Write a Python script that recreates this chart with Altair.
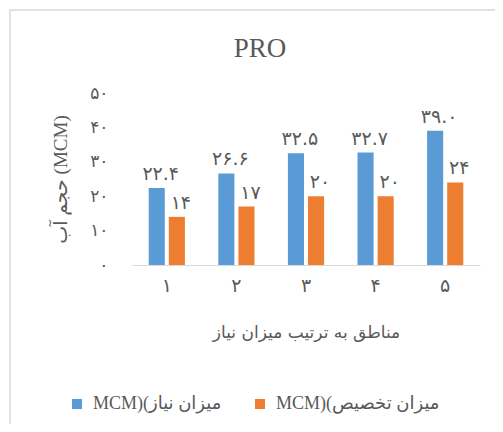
import altair as alt
import pandas as pd

# ---- data ----
regions = ["۱", "۲", "۳", "۴", "۵"]
series = ["MCM)(میزان نیاز", "MCM)(میزان تخصیص"]
need = [22.4, 26.6, 32.5, 32.7, 39.0]
alloc = [14, 17, 20, 20, 24]
need_labels = ["۲۲.۴", "۲۶.۶", "۳۲.۵", "۳۲.۷", "۳۹.۰"]
alloc_labels = ["۱۴", "۱۷", "۲۰", "۲۰", "۲۴"]
y_ticks = [0, 10, 20, 30, 40, 50]
y_tick_labels = ["۰", "۱۰", "۲۰", "۳۰", "۴۰", "۵۰"]

title_text = "PRO"
x_title = "مناطق به ترتیب میزان نیاز"
y_title = "حجم آب (MCM)"

colors = ["#5B9BD5", "#ED7D31"]
text_color = "#595959"
fa_font = "DejaVu Sans"
mixed_font = "'Liberation Serif', 'DejaVu Sans'"

rows = []
for r, v, l in zip(regions, need, need_labels):
    rows.append({"region": r, "series": series[0], "value": v, "label": l})
for r, v, l in zip(regions, alloc, alloc_labels):
    rows.append({"region": r, "series": series[1], "value": v, "label": l})
df = pd.DataFrame(rows)

label_expr = "[" + ",".join("'" + s + "'" for s in y_tick_labels) + "][round(datum.value / 10)]"

base = alt.Chart(df).encode(
    x=alt.X(
        "region:N",
        sort=regions,
        scale=alt.Scale(paddingInner=0.48, paddingOuter=0.24),
        axis=alt.Axis(
            title=x_title,
            titleFont=fa_font,
            titleFontSize=17,
            titleFontWeight="normal",
            titleColor=text_color,
            titleY=67,
            titleBaseline="middle",
            labelAngle=0,
            labelFont=fa_font,
            labelFontSize=19,
            labelColor=text_color,
            labelPadding=11,
            ticks=False,
            domainColor="#D9D9D9",
            domainWidth=1,
            grid=False,
        ),
    ),
    xOffset=alt.XOffset("series:N", sort=series, scale=alt.Scale(paddingInner=0.2)),
    y=alt.Y(
        "value:Q",
        scale=alt.Scale(domain=[0, 50]),
        axis=alt.Axis(
            title=y_title,
            titleFont=mixed_font,
            titleFontSize=19,
            titleFontWeight="normal",
            titleColor=text_color,
            titleX=-72,
            titleY=86,
            titleAngle=270,
            titleAlign="center",
            titleBaseline="middle",
            values=y_ticks,
            labelExpr=label_expr,
            labelFont=fa_font,
            labelFontSize=17,
            labelColor=text_color,
            labelPadding=24,
            ticks=False,
            domain=False,
            grid=False,
        ),
    ),
)

bars = base.mark_bar().encode(
    color=alt.Color(
        "series:N",
        sort=series,
        scale=alt.Scale(domain=series, range=colors),
        legend=alt.Legend(
            title=None,
            orient="none",
            legendX=-64,
            legendY=302,
            direction="horizontal",
            symbolType="square",
            symbolSize=100,
            symbolStrokeWidth=0,
            labelFont=mixed_font,
            labelFontSize=18,
            labelColor=text_color,
            labelOffset=7,
            columnPadding=29,
            labelLimit=300,
        ),
    )
)

labels = base.mark_text(
    baseline="bottom", dy=-4, dx=4, font=fa_font, fontSize=19, color=text_color
).encode(text="label:N")

frame = alt.Chart(alt.Data(values=[{}])).mark_rect(
    fillOpacity=0, stroke="#D9D9D9", strokeWidth=1.5
).encode(
    x=alt.value(-122), x2=alt.value(420), y=alt.value(-83), y2=alt.value(420)
)

title = alt.Chart(alt.Data(values=[{"t": title_text}])).mark_text(
    font="Liberation Serif", fontSize=27, color=text_color,
    align="center", baseline="alphabetic"
).encode(text="t:N", x=alt.value(128), y=alt.value(-36))

chart = (
    alt.layer(frame, bars, labels, title)
    .properties(
        width=348,
        height=172,
        autosize="none",
        padding={"left": 124, "top": 85, "right": 15, "bottom": 159},
    )
    .configure_view(stroke=None)
)

chart.save("out.html", embed_options={"renderer": "svg", "actions": False})
